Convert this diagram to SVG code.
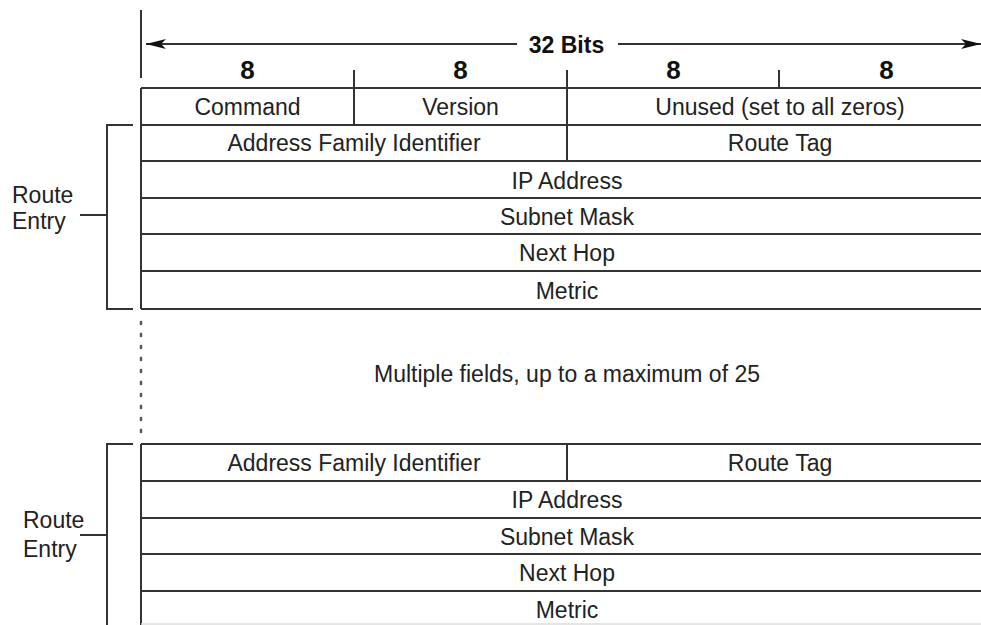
<svg xmlns="http://www.w3.org/2000/svg" width="981" height="625" viewBox="0 0 981 625">
<defs>
<style>
.t{font-family:"Liberation Sans",Arial,sans-serif;font-size:23px;fill:#222;text-anchor:middle}
.b{font-family:"Liberation Sans",Arial,sans-serif;font-weight:bold;fill:#111;text-anchor:middle}
.l{font-family:"Liberation Sans",Arial,sans-serif;font-size:23px;fill:#222}
.ln{stroke:#333;stroke-width:2;fill:none}
.dot{stroke:#555;stroke-width:2.5;fill:none;stroke-dasharray:2 10;stroke-linecap:round}
</style>
<marker id="ah" viewBox="0 0 20 10" refX="20" refY="5" markerWidth="20" markerHeight="10" markerUnits="userSpaceOnUse" orient="auto-start-reverse">
<path d="M0,0 L20,5 L0,10 L5,5 Z" fill="#111"/>
</marker>
</defs>
<rect width="981" height="625" fill="#fff"/>

<g id="scale">
<line class="ln" x1="141" y1="10" x2="141" y2="78"/>
<text class="b" x="566.5" y="53" font-size="23">32 Bits</text>
<text class="b" x="247.5" y="79" font-size="26">8</text>
<text class="b" x="460.5" y="79" font-size="26">8</text>
<text class="b" x="673.5" y="79" font-size="26">8</text>
<text class="b" x="886.5" y="79" font-size="26">8</text>
<line class="ln" x1="354" y1="70" x2="354" y2="88"/>
<line class="ln" x1="567" y1="70" x2="567" y2="88"/>
<line class="ln" x1="779" y1="70" x2="779" y2="88"/>
</g>

<g id="connectors">
<line class="ln" x1="517" y1="44" x2="146" y2="44" marker-end="url(#ah)"/>
<line class="ln" x1="618" y1="44" x2="981" y2="44" marker-end="url(#ah)"/>
<path class="ln" d="M133,125 H107 V309 H133 M80,215 H107"/>
<path class="ln" d="M133,444 H107 V625 M80,535 H107"/>
<line class="dot" x1="141" y1="322" x2="141" y2="436"/>
</g>

<g id="header">
<path class="ln" d="M141,88 H981 M141,125 H981 M141,88 V309 M354,88 V125 M567,88 V125"/>
<text class="t" x="247.5" y="115">Command</text>
<text class="t" x="460.5" y="115">Version</text>
<text class="t" x="780" y="115">Unused (set to all zeros)</text>
</g>

<g id="route-entry-1">
<path class="ln" d="M141,161 H981 M141,198 H981 M141,234 H981 M141,271 H981 M141,309 H981 M567,125 V161"/>
<text class="t" x="354" y="151">Address Family Identifier</text>
<text class="t" x="780" y="151">Route Tag</text>
<text class="t" x="567" y="189">IP Address</text>
<text class="t" x="567" y="225">Subnet Mask</text>
<text class="t" x="567" y="261">Next Hop</text>
<text class="t" x="567" y="299">Metric</text>
</g>

<g id="label-1">
<text class="l" x="12" y="203">Route</text>
<text class="l" x="12" y="229">Entry</text>
</g>

<g id="note">
<text class="t" x="567" y="382">Multiple fields, up to a maximum of 25</text>
</g>

<g id="route-entry-2">
<path class="ln" d="M141,444 H981 M141,481 H981 M141,518 H981 M141,554 H981 M141,591 H981 M141,444 V625 M567,444 V481"/>
<line x1="141" y1="624" x2="981" y2="624" stroke="#ddd" stroke-width="1.5"/>
<text class="t" x="354" y="471">Address Family Identifier</text>
<text class="t" x="780" y="471">Route Tag</text>
<text class="t" x="567" y="508">IP Address</text>
<text class="t" x="567" y="545">Subnet Mask</text>
<text class="t" x="567" y="581">Next Hop</text>
<text class="t" x="567" y="618">Metric</text>
</g>

<g id="label-2">
<text class="l" x="23" y="528">Route</text>
<text class="l" x="23" y="557">Entry</text>
</g>
</svg>
